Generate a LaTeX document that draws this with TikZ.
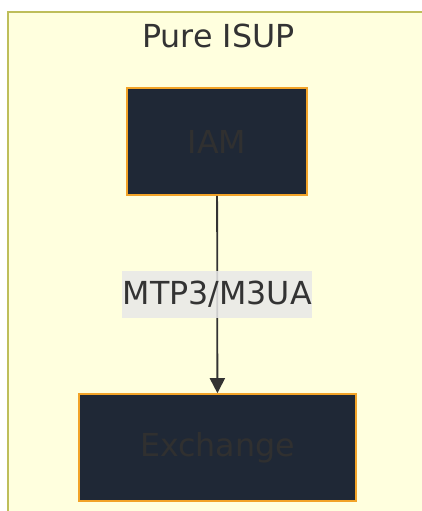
\documentclass[tikz,border=0pt]{standalone}
\usepackage{fontspec}
\setmainfont{DejaVu Sans}
\usetikzlibrary{arrows.meta,positioning}
\definecolor{clusterfill}{RGB}{255,255,222}
\definecolor{clusterline}{RGB}{190,190,90}
\definecolor{boxfill}{RGB}{31,40,54}
\definecolor{boxline}{RGB}{242,163,40}
\definecolor{boxtext}{RGB}{48,48,48}
\definecolor{lblfill}{RGB}{232,232,232}
\definecolor{inkgray}{RGB}{51,51,51}
\tikzset{
  stagebox/.style={draw=boxline, fill=boxfill, line width=1.6pt, text=boxtext,
    minimum height=107pt, inner sep=0pt, font=\fontsize{31.7}{38}\selectfont},
  flowln/.style={-{Triangle[length=15pt,width=15pt]}, line width=1.8pt, inkgray},
  edgelbl/.style={fill=lblfill, fill opacity=0.85, text opacity=1, text=inkgray,
    minimum width=190pt, minimum height=47pt,
    inner sep=0pt, font=\fontsize{31.7}{38}\selectfont},
}

\begin{document}
\begin{tikzpicture}[x=1pt, y=-1pt]
    \useasboundingbox (0,0) rectangle (422,511);
    % --- cluster frame ---
    \draw[fill=clusterfill, draw=clusterline, line width=2pt] (8,12) rectangle (440,530);
    \node[text=inkgray, font=\fontsize{31.7}{38}\selectfont] (title) at (218.5,36) {Pure ISUP};
    % --- message and exchange ---
    \node[stagebox, minimum width=180pt] (iam) at (217,141.5) {IAM};
    \node[stagebox, minimum width=277pt] (exch) at (217.5,447.5) {Exchange};
    % link between them
    \draw[flowln] (iam) -- node[edgelbl]{MTP3/M3UA} (exch);
  \end{tikzpicture}
\end{document}
